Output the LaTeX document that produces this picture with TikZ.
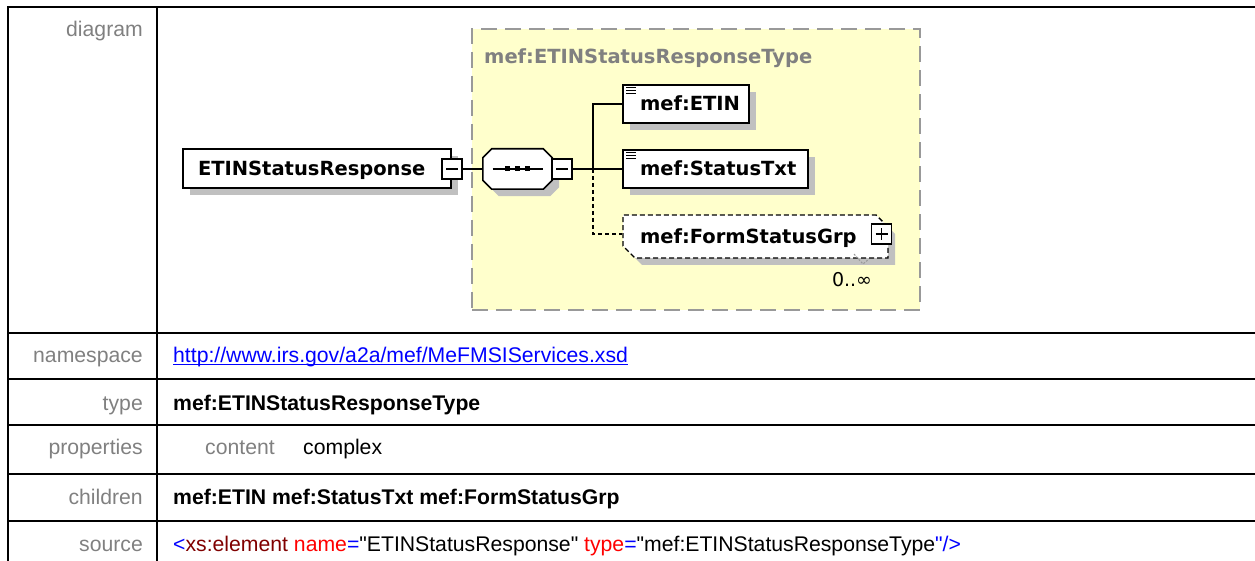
\documentclass[tikz,border=0pt]{standalone}
\usepackage{fontspec}
\setmainfont{Liberation Sans}[Ligatures=TeXOff]
\newfontfamily\dvfont{DejaVu Sans}
\usetikzlibrary{shapes.misc,shadows}
\definecolor{lblgray}{HTML}{808080}
\definecolor{shgray}{HTML}{C0C0C0}
\definecolor{ylw}{HTML}{FFFFCC}
\definecolor{dashgray}{HTML}{999999}
\definecolor{attrred}{HTML}{FF0000}
\definecolor{elemred}{HTML}{800000}
\definecolor{xblue}{HTML}{0000FF}
\newcommand\dfont{\dvfont\bfseries\fontsize{19.5}{22}\selectfont}
\newcommand\tfont{\fontsize{21.2}{25}\selectfont}
\begin{document}
\begin{tikzpicture}[x=1pt,y=-1pt,
  tline/.style={line width=2pt},
  lbl/.style={anchor=base east, inner sep=0pt, text=lblgray, font=\tfont},
  val/.style={anchor=base west, inner sep=0pt, font=\tfont},
  shd/.style={drop shadow={shadow xshift=7pt, shadow yshift=-7pt, fill=shgray, opacity=1, draw=none}},
  elem/.style={draw, line width=1.6pt, fill=white, inner sep=0pt, font=\dfont, text height=14pt, text depth=0pt, align=left, shd},
  grpbox/.style={chamfered rectangle, chamfered rectangle corners={north east, south west}, chamfered rectangle xsep=6pt, chamfered rectangle ysep=6pt, draw, line width=1.4pt, dash pattern=on 5pt off 3pt, fill=white, inner sep=0pt, font=\dfont, text height=14pt, text depth=0pt, align=left, shd},
  seqarea/.style={minimum width=69pt, minimum height=40pt, inner sep=0pt},
  octp/.style={insert path={([xshift=9pt]#1.north west) -- ([xshift=-9pt]#1.north east) -- ([yshift=-9pt]#1.north east) -- ([yshift=9pt]#1.south east) -- ([xshift=-9pt]#1.south east) -- ([xshift=9pt]#1.south west) -- ([yshift=9pt]#1.south west) -- ([yshift=-9pt]#1.north west) -- cycle}},
  pmbox/.style={draw, line width=1.4pt, fill=white, minimum size=20pt, inner sep=0pt},
  ctr/.style={draw=dashgray, fill=ylw, line width=2pt, dash pattern=on 16pt off 8pt, minimum width=448pt, minimum height=281pt, inner sep=0pt},
  conn/.style={line width=1.5pt},
  dconn/.style={line width=1.5pt, dash pattern=on 4pt off 3pt}]
\useasboundingbox (0,0) rectangle (1255,561);
% table grid
\draw[tline] (8,561) -- (8,7) -- (1255,7);
\draw[tline] (157,7) -- (157,561);
\foreach \yy in {333,379,425,474,521} \draw[tline] (8,\yy) -- (1255,\yy);
% row labels
\node[lbl] (l1) at (143,37) {diagram};
\node[lbl] (l2) at (143,362) {namespace};
\node[lbl] (l3) at (143,410) {type};
\node[lbl] (l4) at (143,454) {properties};
\node[lbl] (l5) at (143,504) {children};
\node[lbl] (l6) at (143,551) {source};
% values
\node[val, text=xblue] (v1) at (173,362) {http://www.irs.gov/a2a/mef/MeFMSIServices.xsd};
\draw[xblue, line width=1.2pt] ([yshift=-2.5pt]v1.base west) -- ([yshift=-2.5pt]v1.base east);
\node[val, font=\tfont\bfseries] (v2) at (173,410) {mef:ETINStatusResponseType};
\node[val, text=lblgray] (v3a) at (205,454) {content};
\node[val] (v3b) at (303,454) {complex};
\node[val, font=\tfont\bfseries] (v4) at (173,504) {mef:ETIN mef:StatusTxt mef:FormStatusGrp};
\node[val] (v5) at (173,551) {\textcolor{xblue}{<}\textcolor{elemred}{xs:element} \textcolor{attrred}{name}\textcolor{xblue}{=}"ETINStatusResponse" \textcolor{attrred}{type}\textcolor{xblue}{=}"mef:ETINStatusResponseType\textcolor{xblue}{"/>}};
% diagram container
\node[ctr] (ct) at (696,169.5) {};
\node[anchor=base west, inner sep=0pt, font=\dfont, text=lblgray] (ttl) at (484,64) {mef:ETINStatusResponseType};
% element boxes
\node[elem, minimum width=268pt, minimum height=39pt, text width=238pt] (main) at (317,168.5) {ETINStatusResponse};
\node[pmbox] (m1) at (452,169) {};
\node[seqarea] (seqsh) at (524.5,176) {};
\node[seqarea] (seq) at (517.5,169) {};
\fill[shgray] [octp=seqsh];
\filldraw[fill=white, line width=1.6pt] [octp=seq];
\node[pmbox] (m2) at (562,169) {};
\coordinate (j) at (593,169);
\node[elem, minimum width=126pt, minimum height=38pt, text width=92pt] (etin) at (686,104) {mef:ETIN};
\node[elem, minimum width=185pt, minimum height=38pt, text width=151pt] (stat) at (715.5,169) {mef:StatusTxt};
\node[grpbox, minimum width=265pt, minimum height=43pt, text width=231pt] (fsg) at (755.5,236.5) {mef:FormStatusGrp};
\node[pmbox] (p1) at (881.5,234) {};
% connectors
\draw[conn] (m1.east) -- (seq.west);
\draw[conn] (m2.east) -- (stat.west);
\draw[conn] (j) |- (etin.west);
\draw[dconn] (j) |- ([yshift=2.5pt]fsg.west);
% glyphs inside boxes
\draw[line width=1.3pt] ([xshift=-6pt]m1.center) -- ([xshift=6pt]m1.center);
\draw[line width=1.3pt] ([xshift=-6pt]m2.center) -- ([xshift=6pt]m2.center);
\draw[line width=1.3pt] ([xshift=-6pt]p1.center) -- ([xshift=6pt]p1.center);
\draw[line width=1.3pt] ([yshift=-6pt]p1.center) -- ([yshift=6pt]p1.center);
\draw[line width=1.5pt] ([xshift=-25pt]seq.center) -- ([xshift=25pt]seq.center);
\foreach \dx in {-10,0,10} \fill ([xshift=\dx pt]seq.center) ++(-2.5,-2.5) rectangle ++(5,5);
\foreach \n in {etin,stat} {
  \foreach \dy in {3,6,9} \draw[line width=1.3pt] ([shift={(4pt,-\dy pt)}]\n.north west) -- ++(10,0);
}
% multiplicity
\draw[dashgray, line width=1pt, dash pattern=on 2pt off 1.5pt] (854,254) -- (863,264) -- (869,259);
\node[font=\dvfont\fontsize{19}{22}\selectfont, inner sep=0pt, anchor=base] (mult) at (852,287) {0..∞};
\end{tikzpicture}
\end{document}
